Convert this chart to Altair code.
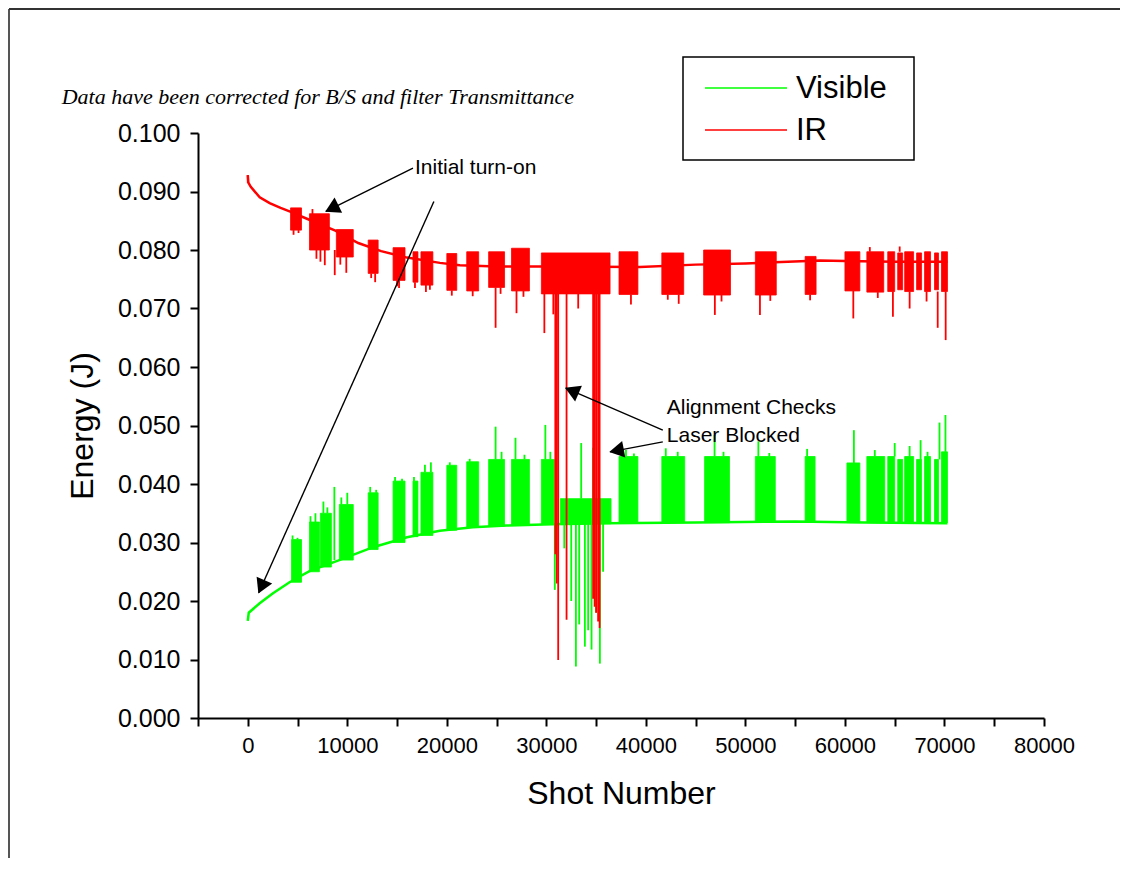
import math
import altair as alt
import pandas as pd

# ---------------- data ----------------
series_names = ["Visible", "IR"]
series_colors = ["#00ff00", "#ff0000"]

# smooth baseline traces
vis_base_shot = [0, 100, 1200, 2500, 4200, 6200, 9200, 12600, 16000, 19300, 22600,
                 26000, 30600, 36000, 45000, 55000, 62000, 70300]
vis_base_energy = [0.0166, 0.0180, 0.0196, 0.0213, 0.0232, 0.0251, 0.0270, 0.0292, 0.0309,
                   0.0320, 0.0326, 0.0329, 0.0331, 0.0333, 0.0334, 0.0336, 0.0334, 0.0333]

ir_base_shot = [0, 60, 300, 1200, 2200, 3300, 4200, 6000, 8800, 11100, 13400, 16000, 19300,
                21300, 25000, 30000, 39400, 45000, 50000, 57500, 60000, 65000, 70300]
ir_base_energy = [0.0928, 0.0915, 0.0908, 0.0890, 0.0880, 0.0872, 0.0866, 0.0853, 0.0833,
                  0.0812, 0.0798, 0.0787, 0.0778, 0.0774, 0.0772, 0.0772, 0.0771, 0.0775,
                  0.0777, 0.0782, 0.0781, 0.0780, 0.0780]

# dense burst blocks: start shot, end shot, low energy, high energy
vis_burst_start = [4400, 6200, 7300, 9200, 12100, 14600, 16600, 17400, 20000, 22000, 24200,
                   26500, 29500, 31400, 37300, 41600, 45900, 51000, 56000, 60200, 62200,
                   64300, 65300, 66000, 67200, 68000, 69000, 69700]
vis_burst_end = [5400, 7200, 8400, 10600, 13100, 15800, 17100, 18600, 21000, 23200, 25800,
                 28300, 30800, 36500, 39200, 43900, 48400, 53000, 57000, 61500, 64000,
                 65000, 65800, 66900, 67700, 68600, 69400, 70300]
vis_burst_low = [0.0232, 0.0250, 0.0258, 0.0270, 0.0288, 0.0300, 0.0310, 0.0312, 0.0321,
                 0.0326, 0.0328, 0.0329, 0.0331, 0.0332, 0.0333, 0.0334, 0.0334, 0.0335,
                 0.0336, 0.0334, 0.0334, 0.0334, 0.0334, 0.0334, 0.0334, 0.0334, 0.0334, 0.0334]
vis_burst_high = [0.0305, 0.0335, 0.0350, 0.0365, 0.0385, 0.0405, 0.0405, 0.0420, 0.0432,
                  0.0438, 0.0442, 0.0442, 0.0442, 0.0375, 0.0447, 0.0447, 0.0447, 0.0447,
                  0.0447, 0.0436, 0.0447, 0.0447, 0.0442, 0.0447, 0.0442, 0.0447, 0.0442, 0.0455]

ir_burst_start = [4300, 6200, 8900, 12100, 14600, 16600, 17400, 20000, 22000, 24200, 26500,
                  29500, 37300, 41600, 45800, 51000, 56000, 60000, 62200,
                  64300, 65300, 66000, 67200, 68000, 69000, 69700]
ir_burst_end = [5400, 8200, 10600, 13100, 15800, 17100, 18600, 21000, 23200, 25800, 28300,
                36400, 39200, 43800, 48500, 53100, 57100, 61500, 63900,
                65000, 65800, 66900, 67700, 68600, 69400, 70300]
ir_burst_low = [0.0834, 0.0800, 0.0788, 0.0760, 0.0748, 0.0745, 0.0740, 0.0731, 0.0730,
                0.0736, 0.0730, 0.0725, 0.0724, 0.0724, 0.0723, 0.0723, 0.0724, 0.0730,
                0.0728, 0.0729, 0.0732, 0.0729, 0.0732, 0.0729, 0.0732, 0.0729]
ir_burst_high = [0.0872, 0.0862, 0.0835, 0.0817, 0.0804, 0.0797, 0.0797, 0.0794, 0.0797,
                 0.0797, 0.0803, 0.0795, 0.0797, 0.0795, 0.0800, 0.0797, 0.0789, 0.0797,
                 0.0797, 0.0797, 0.0795, 0.0797, 0.0795, 0.0797, 0.0795, 0.0797]

# isolated spikes: shot, start energy, end energy
vis_spike_shot = [4500, 5000, 6300, 6800, 7600, 8000, 8700, 9400, 10000, 12300, 12900,
                  14800, 15500, 16700, 17800, 18400, 20300, 22300, 24900, 25500, 26900,
                  27800, 29900, 30400, 33500, 34700, 38000, 38800, 42000, 43200, 46900,
                  47800, 51300, 52400, 56200, 60900, 63000, 65000, 66500, 67600, 68300,
                  69500, 70100,
                  30850, 31800, 32500, 32970, 33300, 33870, 34200, 34540, 35000, 35380, 35700]
vis_spike_from = [0.0305, 0.0305, 0.0335, 0.0335, 0.0350, 0.0350, 0.0270, 0.0365, 0.0365,
                  0.0385, 0.0385, 0.0405, 0.0405, 0.0405, 0.0420, 0.0420, 0.0432, 0.0438,
                  0.0442, 0.0442, 0.0442, 0.0442, 0.0442, 0.0442, 0.0375, 0.0375, 0.0447,
                  0.0447, 0.0447, 0.0447, 0.0447, 0.0447, 0.0447, 0.0447, 0.0447, 0.0436,
                  0.0447, 0.0447, 0.0447, 0.0442, 0.0447, 0.0442, 0.0455,
                  0.0331, 0.0332, 0.0332, 0.0332, 0.0332, 0.0332, 0.0332, 0.0332, 0.0332,
                  0.0332, 0.0332]
vis_spike_to = [0.0312, 0.0308, 0.0345, 0.0350, 0.0370, 0.0360, 0.0395, 0.0377, 0.0385,
                0.0395, 0.0390, 0.0412, 0.0409, 0.0412, 0.0433, 0.0437, 0.0437, 0.0443,
                0.0498, 0.0455, 0.0479, 0.0450, 0.0501, 0.0455, 0.0470, 0.0462, 0.0458,
                0.0452, 0.0461, 0.0455, 0.0484, 0.0455, 0.0473, 0.0453, 0.0460, 0.0492,
                0.0458, 0.0470, 0.0465, 0.0475, 0.0455, 0.0505, 0.0518,
                0.0219, 0.0290, 0.0200, 0.0088, 0.0160, 0.0122, 0.0150, 0.0117, 0.0180,
                0.0093, 0.0250]

ir_spike_shot = [0, 4600, 5100, 6500, 6900, 7300, 7740, 8740, 9300, 9900, 12400, 12800,
                 15000, 15200, 16800, 17900, 18300, 20500, 22600, 24900, 25400, 27000, 27700,
                 29800, 30700, 30900, 31050, 31190, 32030, 33200, 34700, 34850, 35000, 35200,
                 35350, 38500, 42200, 43300, 46930, 47600, 51460, 52500, 56500, 60840,
                 62500, 63300, 64820, 65500, 66500, 68200, 69320, 70120]
ir_spike_from = [0.0915, 0.0834, 0.0834, 0.0853, 0.0800, 0.0800, 0.0800, 0.0800, 0.0788,
                 0.0788, 0.0760, 0.0760, 0.0748, 0.0748, 0.0745, 0.0740, 0.0740, 0.0731,
                 0.0730, 0.0736, 0.0736, 0.0730, 0.0730, 0.0725, 0.0725, 0.0725, 0.0725,
                 0.0725, 0.0725, 0.0725, 0.0725, 0.0725, 0.0725, 0.0725, 0.0725, 0.0724,
                 0.0724, 0.0724, 0.0723, 0.0723, 0.0723, 0.0723, 0.0724, 0.0730, 0.0797,
                 0.0728, 0.0729, 0.0797, 0.0729, 0.0729, 0.0729, 0.0729]
ir_spike_to = [0.0928, 0.0826, 0.0829, 0.0870, 0.0785, 0.0780, 0.0774, 0.0757, 0.0775,
               0.0761, 0.0752, 0.0745, 0.0738, 0.0735, 0.0735, 0.0728, 0.0732, 0.0722,
               0.0721, 0.0667, 0.0725, 0.0692, 0.0720, 0.0658, 0.0690, 0.0280, 0.0230,
               0.0099, 0.0168, 0.0700, 0.0204, 0.0190, 0.0180, 0.0165, 0.0154, 0.0707,
               0.0715, 0.0708, 0.0689, 0.0712, 0.0689, 0.0713, 0.0714, 0.0683, 0.0805,
               0.0718, 0.0686, 0.0806, 0.0700, 0.0712, 0.0667, 0.0646]

# annotations (data units)
note_text = ["Data have been corrected for B/S and filter Transmittance"]
label_text = ["Initial turn-on", "Alignment Checks", "Laser Blocked"]
label_shot = [16800, 42100, 42100]
label_energy = [0.0941, 0.0530, 0.0482]
arrow_start_shot = [16600, 18700, 41700, 41700]
arrow_start_energy = [0.0940, 0.0883, 0.0492, 0.0472]
arrow_tip_shot = [7850, 1100, 31950, 36400]
arrow_tip_energy = [0.0866, 0.0214, 0.0564, 0.0455]

x_ticks = list(range(-5000, 80001, 5000))
y_ticks = [round(i * 0.0025, 4) for i in range(41)]

# ---------------- layout ----------------
W, H = 846, 585
X_DOM = [-5000, 80000]
Y_DOM = [0.0, 0.1]
FONT = "Liberation Sans"

kx = W / (X_DOM[1] - X_DOM[0])
ky = H / (Y_DOM[1] - Y_DOM[0])

base_df = pd.DataFrame({
    "shot": vis_base_shot + ir_base_shot,
    "energy": vis_base_energy + ir_base_energy,
    "series": ["Visible"] * len(vis_base_shot) + ["IR"] * len(ir_base_shot),
})
burst_df = pd.DataFrame({
    "start": vis_burst_start + ir_burst_start,
    "end": vis_burst_end + ir_burst_end,
    "low": vis_burst_low + ir_burst_low,
    "high": vis_burst_high + ir_burst_high,
    "series": ["Visible"] * len(vis_burst_start) + ["IR"] * len(ir_burst_start),
})
spike_df = pd.DataFrame({
    "shot": vis_spike_shot + ir_spike_shot,
    "e0": vis_spike_from + ir_spike_from,
    "e1": vis_spike_to + ir_spike_to,
    "series": ["Visible"] * len(vis_spike_shot) + ["IR"] * len(ir_spike_shot),
})

heads = []
for s0, e0, s1, e1 in zip(arrow_start_shot, arrow_start_energy, arrow_tip_shot, arrow_tip_energy):
    dx = (s1 - s0) * kx
    dy = -(e1 - e0) * ky
    ln = math.hypot(dx, dy)
    ang = math.degrees(math.atan2(dx, -dy)) % 360
    back = 9.0
    heads.append({"shot": s1 - dx / ln * back / kx,
                  "energy": e1 + dy / ln * back / ky,
                  "angle": ang})
head_df = pd.DataFrame(heads)
arrow_df = pd.DataFrame({"s0": arrow_start_shot, "e0": arrow_start_energy,
                         "s1": arrow_tip_shot, "e1": arrow_tip_energy})
label_df = pd.DataFrame({"text": label_text, "shot": label_shot, "energy": label_energy})
note_df = pd.DataFrame({"text": note_text, "shot": [-18700], "energy": [0.1062]})
legend_df = pd.DataFrame({"series": series_names})

xs = alt.Scale(domain=X_DOM, nice=False, zero=False)
ys = alt.Scale(domain=Y_DOM, nice=False, zero=False)
cs = alt.Scale(domain=series_names, range=series_colors)

x_axis = alt.Axis(values=x_ticks, format="d",
                  labelExpr="datum.value >= 0 && datum.value % 10000 == 0 ? datum.label : ''",
                  title="Shot Number", titleFontSize=32, titleFont=FONT, titleFontWeight="normal",
                  titleColor="black", titlePadding=22,
                  labelFont=FONT, labelFontSize=22, labelColor="black", labelPadding=9,
                  labelFlush=False, labelOverlap=False, labelBound=False,
                  tickSize=8, tickWidth=2, tickColor="black", domainColor="black", domainWidth=2,
                  grid=False)
y_axis = alt.Axis(values=y_ticks, format=".3f",
                  labelExpr="round(datum.value * 10000) % 50 == 0 ? datum.label : ''",
                  title="Energy (J)", titleFontSize=32, titleFont=FONT, titleFontWeight="normal",
                  titleColor="black", titlePadding=18,
                  labelFont=FONT, labelFontSize=25, labelColor="black", labelPadding=10,
                  labelFlush=False, labelOverlap=False, labelBound=False,
                  tickSize=8, tickWidth=2, tickColor="black", domainColor="black", domainWidth=2,
                  grid=False)

lines = alt.Chart(base_df).mark_line(strokeWidth=2.5, clip=True).encode(
    x=alt.X("shot:Q", scale=xs, axis=x_axis),
    y=alt.Y("energy:Q", scale=ys, axis=y_axis),
    color=alt.Color("series:N", scale=cs, legend=None),
    detail="series:N",
)

bursts = alt.Chart(burst_df).mark_rect(strokeWidth=0.8).encode(
    x="start:Q", x2="end:Q", y="low:Q", y2="high:Q",
    color=alt.Color("series:N", scale=cs, legend=None),
    stroke=alt.Color("series:N", scale=cs, legend=None),
)

spikes = alt.Chart(spike_df).mark_rule(strokeWidth=1.8).encode(
    x="shot:Q", y="e0:Q", y2="e1:Q",
    color=alt.Color("series:N", scale=cs, legend=None),
)

arrows = alt.Chart(arrow_df).mark_rule(strokeWidth=1.4, color="black").encode(
    x="s0:Q", y="e0:Q", x2="s1:Q", y2="e1:Q")

heads_layer = alt.Chart(head_df).mark_point(shape="triangle", filled=True, color="black",
                                             opacity=1, size=290).encode(
    x="shot:Q", y="energy:Q", angle=alt.Angle("angle:Q", scale=None))

labels = alt.Chart(label_df).mark_text(align="left", baseline="middle", font=FONT,
                                       fontSize=21, color="black").encode(
    x="shot:Q", y="energy:Q", text="text:N")

note = alt.Chart(note_df).mark_text(align="left", baseline="middle", font="Liberation Serif",
                                    fontStyle="italic", fontSize=22, color="black").encode(
    x="shot:Q", y="energy:Q", text="text:N")

# legend box (drawn by hand, pixel offsets from the plot origin)
leg_box = alt.Chart(legend_df.head(1)).mark_rect(fill="white", stroke="black",
                                                 strokeWidth=1.5).encode(
    x=alt.value(485), x2=alt.value(716), y=alt.value(-76), y2=alt.value(27))
leg_vis_line = alt.Chart(legend_df.head(1)).mark_rule(strokeWidth=1.5).encode(
    x=alt.value(507), x2=alt.value(589), y=alt.value(-45),
    color=alt.Color("series:N", scale=cs, legend=None))
leg_ir_line = alt.Chart(legend_df.tail(1)).mark_rule(strokeWidth=1.5).encode(
    x=alt.value(507), x2=alt.value(589), y=alt.value(-3),
    color=alt.Color("series:N", scale=cs, legend=None))
leg_vis_text = alt.Chart(legend_df.head(1)).mark_text(
    align="left", baseline="middle", font=FONT, fontSize=31, color="black").encode(
    x=alt.value(598), y=alt.value(-44), text="series:N")
leg_ir_text = alt.Chart(legend_df.tail(1)).mark_text(
    align="left", baseline="middle", font=FONT, fontSize=31, color="black").encode(
    x=alt.value(598), y=alt.value(-2), text="series:N")

# slide frame (left and top edges)
frame_left = alt.Chart(note_df).mark_rule(color="#555555", strokeWidth=2).encode(
    x=alt.value(-189), y=alt.value(-124), y2=alt.value(H + 140))
frame_top = alt.Chart(note_df).mark_rule(color="#333333", strokeWidth=2).encode(
    x=alt.value(-189), x2=alt.value(W + 76), y=alt.value(-124))

chart = alt.layer(lines, bursts, spikes, arrows, heads_layer, labels, note,
                  leg_box, leg_vis_line, leg_ir_line, leg_vis_text, leg_ir_text,
                  frame_left, frame_top).properties(
    width=W, height=H,
    autosize=alt.AutoSizeParams(type="none"),
    padding={"left": 190, "top": 125, "right": 76, "bottom": 140},
).configure(background="white").configure_view(strokeWidth=0, stroke="transparent")

chart.save("out.html", embed_options={"renderer": "svg", "actions": False})
